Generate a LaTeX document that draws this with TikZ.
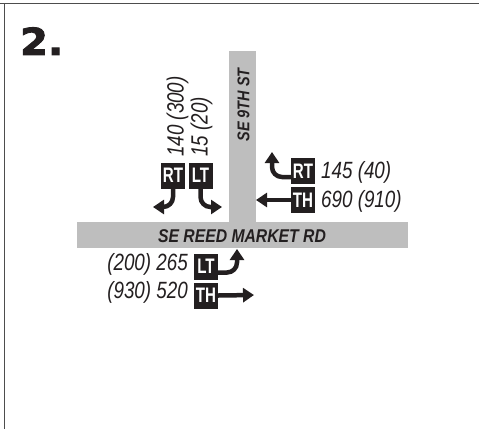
\documentclass[tikz,border=0pt]{standalone}
\usepackage{fontspec}
\usetikzlibrary{arrows.meta}
\setmainfont{Liberation Sans}
\newfontfamily\labf[FakeStretch=0.8]{Liberation Sans}
\newfontfamily\boxf[FakeStretch=0.72]{Liberation Sans}
\newfontfamily\roadf[FakeStretch=0.85]{Liberation Sans}
\newfontfamily\numf[BoldFeatures={FakeBold=2.5,FakeStretch=1.08}]{DejaVu Sans}
\definecolor{ink}{HTML}{231F20}
\definecolor{road}{HTML}{BEBEBE}
\definecolor{frame}{HTML}{4D4D4D}
\tikzset{
  mv/.style={fill=ink, text=white, minimum width=24pt, minimum height=26pt, inner sep=0pt,
    font=\boxf\bfseries\fontsize{21}{21}\selectfont},
  vol/.style={text=ink, inner sep=0pt, font=\labf\itshape\fontsize{23.5}{23.5}\selectfont},
  roadlab/.style={text=ink, inner sep=0pt, font=\roadf\bfseries\itshape\fontsize{18.5}{18.5}\selectfont},
  arr/.style={draw=ink, line width=4.5pt, rounded corners=10pt,
    -{Triangle[width=14pt,length=11pt]}},
  roadbar/.style={fill=road, draw=none}
}
\begin{document}
\begin{tikzpicture}[x=1pt,y=-1pt]
\useasboundingbox (0,0) rectangle (479,429);
% frame
\draw[frame, line width=1.6pt] (0,3.5) -- (479,3.5);
\draw[frame, line width=1.6pt] (4.5,3.5) -- (4.5,429);
% title
\node[anchor=south west, inner sep=0pt, text=ink, font=\numf\bfseries\fontsize{37}{37}\selectfont] (title) at (20,55) {2.};
% roads
\fill[roadbar] (229,51) rectangle (256,223);
\fill[roadbar] (77,222) rectangle (408,248);
\node[roadlab] (reed) at (242,236) {SE REED MARKET RD};
\node[roadlab, font=\roadf\bfseries\itshape\fontsize{17}{17}\selectfont, rotate=90] (ninth) at (243.5,105) {SE 9TH ST};
% southbound
\node[mv] (sbrt) at (173,175.5) {RT};
\node[mv] (sblt) at (200.5,175.5) {LT};
\node[vol, rotate=90, anchor=west] (sbrtv) at (177.5,157) {140 (300)};
\node[vol, rotate=90, anchor=west] (sbltv) at (201.5,157) {15 (20)};
\coordinate (sbrtend) at (153,207);
\coordinate (sbltend) at (222,207);
\draw[arr] (sbrt.south) |- (sbrtend);
\draw[arr] (sblt.south) |- (sbltend);
% westbound
\node[mv] (wbrt) at (303,171) {RT};
\node[mv] (wbth) at (303,200) {TH};
\node[vol, anchor=west] (wbrtv) at (321,172) {145 (40)};
\node[vol, anchor=west] (wbthv) at (321,201) {690 (910)};
\coordinate (wbrtend) at (272,152);
\coordinate (wbthend) at (256,200);
\draw[arr] ([yshift=-6pt]wbrt.west) -| (wbrtend);
\draw[arr] (wbth.west) -- (wbthend);
% eastbound
\node[mv] (eblt) at (206,266.5) {LT};
\node[mv] (ebth) at (206,295.5) {TH};
\node[vol, anchor=east] (ebltv) at (188,264) {(200) 265};
\node[vol, anchor=east] (ebthv) at (188,292) {(930) 520};
\coordinate (ebltend) at (237,249);
\coordinate (ebthend) at (254,295);
\draw[arr] ([yshift=-6pt]eblt.east) -| (ebltend);
\draw[arr] (ebth.east) -- (ebthend);
\end{tikzpicture}
\end{document}
